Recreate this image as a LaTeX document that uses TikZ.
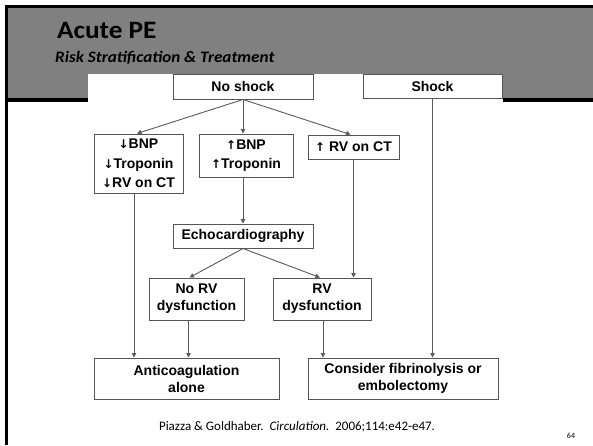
\documentclass[tikz,border=0pt]{standalone}
\usepackage{fontspec}
\setmainfont{Carlito}
\newfontfamily\boxfont{Liberation Sans}
\newfontfamily\arrfont{DejaVu Sans}
\usetikzlibrary{arrows.meta}
\definecolor{band}{HTML}{808080}
\definecolor{boxc}{HTML}{555555}
\definecolor{linec}{HTML}{5A5A5A}
\newcommand{\up}{{\arrfont\fontsize{12}{12}\selectfont ↑}}
\newcommand{\dn}{{\arrfont\fontsize{12}{12}\selectfont ↓}}
\begin{document}
\begin{tikzpicture}[x=1pt,y=-1pt,
  box/.style={draw=boxc, line width=1pt, fill=white, inner sep=0pt, align=center,
    font=\boxfont\bfseries\fontsize{14}{17}\selectfont},
  conn/.style={draw=linec, line width=0.9pt, -{Triangle[length=4.5pt,width=4.5pt]}},
  plain/.style={draw=linec, line width=0.9pt}]
\useasboundingbox (0,0) rectangle (593,445);
\fill[white] (0,0) rectangle (593,445);
% slide header
\fill[band] (6,6) rectangle (593,99);
\fill[black] (6,97.5) rectangle (593,101.5);
\fill[black] (5,5) rectangle (593,7.5);
\fill[black] (5,5) rectangle (7.5,445);
\fill[white] (88,74) rectangle (503,102);
\node[anchor=base west, inner sep=0pt, font=\bfseries\fontsize{25}{25}\selectfont] (title) at (57,38) {\scalebox{1.09}[1]{Acute PE}};
\node[anchor=base west, inner sep=0pt, font=\bfseries\itshape\fontsize{16}{16}\selectfont] (subtitle) at (55,62) {\scalebox{1.07}[1]{Risk Stratification \& Treatment}};
% boxes
\node[box, minimum width=140pt, minimum height=25pt] (noshock) at (243,86.5) {No shock};
\node[box, minimum width=139pt, minimum height=24pt] (shock) at (432.5,86) {Shock};
\node[box, minimum width=89pt, minimum height=59pt, font=\boxfont\bfseries\fontsize{14}{19.5}\selectfont] (bnpdown) at (138.5,163.5) {\dn BNP\\\dn Troponin\\\dn RV on CT};
\node[box, minimum width=94pt, minimum height=43pt, font=\boxfont\bfseries\fontsize{14}{19.5}\selectfont] (bnpup) at (246,155.5) {\up BNP\\\up Troponin};
\node[box, minimum width=91pt, minimum height=24pt] (rvct) at (353.5,147) {\up\ RV on CT};
\node[box, minimum width=140pt, minimum height=24pt] (echo) at (243,236) {Echocardiography};
\node[box, minimum width=95pt, minimum height=42pt] (norv) at (196.5,299) {No RV\\dysfunction};
\node[box, minimum width=98pt, minimum height=42pt] (rv) at (322,299) {RV\\dysfunction};
\node[box, minimum width=185pt, minimum height=41pt] (anticoag) at (186.5,378.5) {Anticoagulation\\alone};
\node[box, minimum width=190pt, minimum height=41pt] (consider) at (403,378.5) {Consider fibrinolysis or\\embolectomy};
% connectors
\draw[conn] (noshock.south) -- ([xshift=-1.5pt]bnpdown.north);
\draw[conn] (noshock.south) -- (noshock.south |- bnpup.north);
\draw[conn] (noshock.south) -- ([xshift=-3pt]rvct.north);
\draw[conn] (shock.south) -- (shock.south |- consider.north);
\draw[conn] ([xshift=-4.5pt]bnpdown.south) -- ([xshift=-4.5pt]bnpdown.south |- anticoag.north);
\draw[conn] (echo.north |- bnpup.south) -- (echo.north);
\draw[conn] (echo.south) -- ([xshift=-7pt]norv.north);
\draw[conn] (echo.south) -- ([xshift=-2pt]rv.north);
\draw[conn] (rvct.south) -- (rvct.south |- rv.north);
\draw[conn] ([xshift=-8pt]norv.south) -- ([xshift=-8pt]norv.south |- anticoag.north);
\draw[conn] ([xshift=1pt]rv.south) -- ([xshift=1pt]rv.south |- consider.north);
% footer
\node[anchor=base, inner sep=0pt, font=\fontsize{13}{13}\selectfont] (cite) at (297,430) {Piazza \& Goldhaber.\ \ \textit{Circulation.}\ \ 2006;114:e42-e47.};
\node[anchor=base, inner sep=0pt, font=\fontsize{8}{8}\selectfont] (pagenum) at (571,438) {64};
\end{tikzpicture}
\end{document}
